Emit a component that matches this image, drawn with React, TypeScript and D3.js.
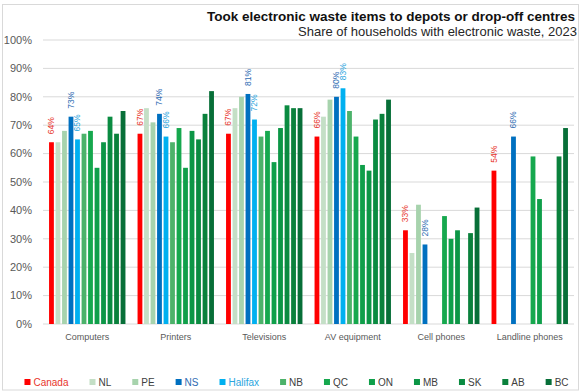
import React from 'react';
import * as d3 from 'd3';

// chart data
const categories = ['Computers', 'Printers', 'Televisions', 'AV equipment', 'Cell phones', 'Landline phones'];
const seriesNames = ['Canada', 'NL', 'PE', 'NS', 'Halifax', 'NB', 'QC', 'ON', 'MB', 'SK', 'AB', 'BC'];
const seriesColors = ['#ff0000', '#c4dfc6', '#a7d3ad', '#0070c0', '#00b0f0', '#4cb26a', '#16a84e', '#0f9f4a', '#0c9646', '#0a8b41', '#0a813c', '#076f38'];
const labelColors: Record<string, string> = { Canada: '#e8352c', NS: '#2f6db3', Halifax: '#2aa5de' };

const canada = [64, 67, 67, 66, 33, 54];
const nl = [64, 76, 76, 73, 25, null];
const pe = [68, 71, 80, 79, 42, null];
const ns = [73, 74, 81, 80, 28, 66];
const halifax = [65, 66, 72, 83, null, null];
const nb = [67, 64, 66, 75, null, null];
const qc = [68, 69, 68, 66, 38, 59];
const on = [55, 55, 57, 56, 30, 44];
const mb = [64, 68, 69, 54, 33, null];
const sk = [73, 65, 77, 72, null, null];
const ab = [67, 74, 76, 74, 32, 59];
const bc = [75, 82, 76, 79, 41, 69];
const seriesValues = [canada, nl, pe, ns, halifax, nb, qc, on, mb, sk, ab, bc];

const yTicks = [0, 10, 20, 30, 40, 50, 60, 70, 80, 90, 100];

const title = 'Took electronic waste items to depots or drop-off centres';
const subtitle = 'Share of households with electronic waste, 2023';

const W = 581;
const H = 392;
const margin = { top: 40, right: 7, bottom: 68, left: 43 };
const FONT = '"Liberation Sans", Arial, sans-serif';
const NARROW = '"Liberation Sans Narrow", "Liberation Sans", Arial, sans-serif';

// measure text width for legend layout
const measure = (text: string, font: string) => {
    const ctx = document.createElement('canvas').getContext('2d');
    if (!ctx) return text.length * 6;
    ctx.font = font;
    return ctx.measureText(text).width;
};

export default function App() {
    const x0 = d3.scaleBand().domain(categories).range([margin.left, W - margin.right]).padding(0);
    const x1 = d3.scaleBand().domain(seriesNames).range([0, x0.bandwidth()])
        .paddingInner(0.26).paddingOuter(0.93);
    const y = d3.scaleLinear().domain([0, 100]).range([H - margin.bottom, margin.top]);

    // legend layout
    const legendSize = 10;
    const legendFont = `${legendSize}px ${FONT}`;
    const sw = 6;
    const items = seriesNames.map(name => ({ name, w: sw + 3 + measure(name, legendFont) }));
    const gap = 21;
    const totalW = d3.sum(items, d => d.w) + gap * (items.length - 1);
    let cursor = 296.5 - totalW / 2;
    const legendItems = items.map((d, i) => {
        const pos = { ...d, x: cursor, color: seriesColors[i] };
        cursor += d.w + gap;
        return pos;
    });
    const legendY = 382;

    return (
        <svg width={W} height={H} style={{ position: 'absolute', left: 0, top: 0, background: '#fff' }}>
            <rect x={2.5} y={4.5} width={576} height={385.5} fill="#fff" stroke="#d9d9d9" />

            {/* grid + y labels */}
            {yTicks.map(t => (
                <g key={t}>
                    <line x1={margin.left} x2={W - margin.right} y1={y(t)} y2={y(t)} stroke="#d9d9d9" strokeWidth={1} />
                    <text x={32} y={y(t)} dy="0.35em" textAnchor="end" fontFamily={FONT} fontSize={11} fill="#595959">{t}%</text>
                </g>
            ))}

            {/* bars */}
            {categories.map((cat, ci) => (
                <g key={cat} transform={`translate(${x0(cat)},0)`}>
                    {seriesNames.map((s, si) => {
                        const v = seriesValues[si][ci];
                        if (v === null || v === undefined) return null;
                        return (
                            <rect key={s} x={x1(s)} y={y(v)} width={x1.bandwidth()} height={y(0) - y(v)} fill={seriesColors[si]} />
                        );
                    })}
                    {seriesNames.map((s, si) => {
                        const v = seriesValues[si][ci];
                        if (v === null || v === undefined || !labelColors[s]) return null;
                        const cx = (x1(s) ?? 0) + x1.bandwidth() / 2;
                        return (
                            <text key={s + 'l'} transform={`translate(${cx},${y(v) - 8}) rotate(-90)`} dy="0.35em"
                                fontFamily={FONT} fontSize={8.5} fill={labelColors[s]}>{v}%</text>
                        );
                    })}
                    <text x={x0.bandwidth() / 2} y={340} textAnchor="middle" fontFamily={FONT} fontSize={9} fill="#595959">{cat}</text>
                </g>
            ))}

            {/* titles */}
            <text x={575} y={20.5} textAnchor="end" fontFamily={NARROW} fontWeight="bold" fontSize={13.5} fill="#111">{title}</text>
            <text x={577} y={36} textAnchor="end" fontFamily={NARROW} fontSize={13} fill="#262626">{subtitle}</text>

            {/* legend */}
            {legendItems.map(d => (
                <g key={d.name} transform={`translate(${d.x},${legendY})`}>
                    <rect x={0} y={-3} width={sw} height={sw} fill={d.color} />
                    <text x={sw + 3} y={0} dy="0.35em" fontFamily={FONT} fontSize={legendSize}
                        fill={labelColors[d.name] ? labelColors[d.name] : '#404040'}>{d.name}</text>
                </g>
            ))}
        </svg>
    );
}
